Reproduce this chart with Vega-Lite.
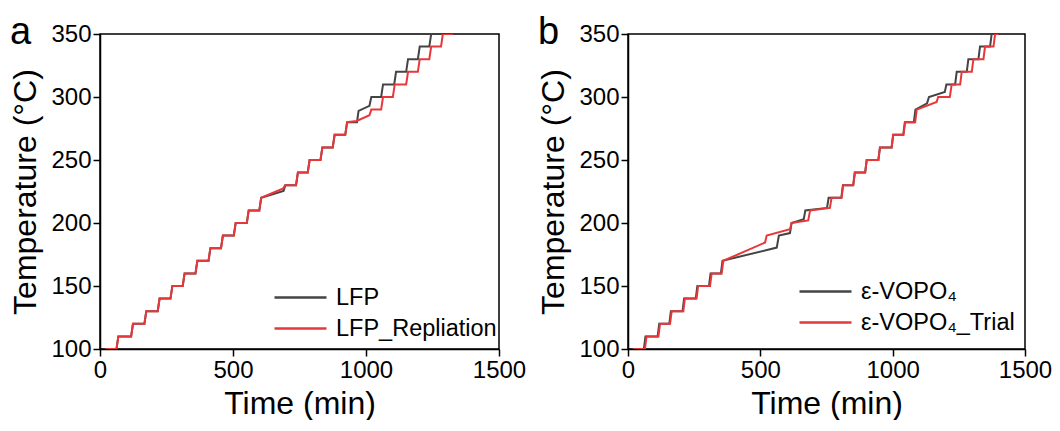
{
  "$schema": "https://vega.github.io/schema/vega-lite/v6.json",
  "background": "white",
  "padding": {"left": 9, "top": 13, "right": 5, "bottom": 0},
  "datasets": {
    "a": [
      {"time": 20, "temp": 100, "series": "LFP"}, {"time": 62, "temp": 100, "series": "LFP"}, {"time": 69, "temp": 110, "series": "LFP"},
      {"time": 117, "temp": 110, "series": "LFP"}, {"time": 124, "temp": 120, "series": "LFP"}, {"time": 167, "temp": 120, "series": "LFP"},
      {"time": 174, "temp": 130, "series": "LFP"}, {"time": 217, "temp": 130, "series": "LFP"}, {"time": 224, "temp": 140, "series": "LFP"},
      {"time": 265, "temp": 140, "series": "LFP"}, {"time": 272, "temp": 150, "series": "LFP"}, {"time": 311, "temp": 150, "series": "LFP"},
      {"time": 318, "temp": 160, "series": "LFP"}, {"time": 359, "temp": 160, "series": "LFP"}, {"time": 366, "temp": 170, "series": "LFP"},
      {"time": 408, "temp": 170, "series": "LFP"}, {"time": 415, "temp": 180, "series": "LFP"}, {"time": 455, "temp": 180, "series": "LFP"},
      {"time": 462, "temp": 190, "series": "LFP"}, {"time": 503, "temp": 190, "series": "LFP"}, {"time": 510, "temp": 200, "series": "LFP"},
      {"time": 552, "temp": 200, "series": "LFP"}, {"time": 559, "temp": 210, "series": "LFP"}, {"time": 599, "temp": 210, "series": "LFP"},
      {"time": 606, "temp": 220, "series": "LFP"}, {"time": 690, "temp": 225.5, "series": "LFP"}, {"time": 697, "temp": 230, "series": "LFP"},
      {"time": 737, "temp": 230, "series": "LFP"}, {"time": 744, "temp": 240, "series": "LFP"}, {"time": 781, "temp": 240, "series": "LFP"},
      {"time": 788, "temp": 250, "series": "LFP"}, {"time": 829, "temp": 250, "series": "LFP"}, {"time": 836, "temp": 260, "series": "LFP"},
      {"time": 875, "temp": 260, "series": "LFP"}, {"time": 882, "temp": 270, "series": "LFP"}, {"time": 922, "temp": 270, "series": "LFP"},
      {"time": 929, "temp": 280, "series": "LFP"}, {"time": 966, "temp": 280, "series": "LFP"}, {"time": 972, "temp": 289, "series": "LFP"},
      {"time": 1013, "temp": 293, "series": "LFP"}, {"time": 1020, "temp": 300, "series": "LFP"}, {"time": 1057, "temp": 300, "series": "LFP"},
      {"time": 1064, "temp": 310, "series": "LFP"}, {"time": 1106, "temp": 310, "series": "LFP"}, {"time": 1113, "temp": 320, "series": "LFP"},
      {"time": 1151, "temp": 320, "series": "LFP"}, {"time": 1158, "temp": 330, "series": "LFP"}, {"time": 1195, "temp": 330, "series": "LFP"},
      {"time": 1202, "temp": 340, "series": "LFP"}, {"time": 1238, "temp": 340, "series": "LFP"}, {"time": 1245, "temp": 350, "series": "LFP"},

      {"time": 20, "temp": 100, "series": "LFP_Repliation"}, {"time": 62, "temp": 100, "series": "LFP_Repliation"}, {"time": 69, "temp": 110, "series": "LFP_Repliation"},
      {"time": 117, "temp": 110, "series": "LFP_Repliation"}, {"time": 124, "temp": 120, "series": "LFP_Repliation"}, {"time": 167, "temp": 120, "series": "LFP_Repliation"},
      {"time": 174, "temp": 130, "series": "LFP_Repliation"}, {"time": 217, "temp": 130, "series": "LFP_Repliation"}, {"time": 224, "temp": 140, "series": "LFP_Repliation"},
      {"time": 265, "temp": 140, "series": "LFP_Repliation"}, {"time": 272, "temp": 150, "series": "LFP_Repliation"}, {"time": 311, "temp": 150, "series": "LFP_Repliation"},
      {"time": 318, "temp": 160, "series": "LFP_Repliation"}, {"time": 359, "temp": 160, "series": "LFP_Repliation"}, {"time": 366, "temp": 170, "series": "LFP_Repliation"},
      {"time": 408, "temp": 170, "series": "LFP_Repliation"}, {"time": 415, "temp": 180, "series": "LFP_Repliation"}, {"time": 455, "temp": 180, "series": "LFP_Repliation"},
      {"time": 462, "temp": 190, "series": "LFP_Repliation"}, {"time": 503, "temp": 190, "series": "LFP_Repliation"}, {"time": 510, "temp": 200, "series": "LFP_Repliation"},
      {"time": 552, "temp": 200, "series": "LFP_Repliation"}, {"time": 559, "temp": 210, "series": "LFP_Repliation"}, {"time": 599, "temp": 210, "series": "LFP_Repliation"},
      {"time": 606, "temp": 220, "series": "LFP_Repliation"}, {"time": 689, "temp": 227.5, "series": "LFP_Repliation"}, {"time": 696, "temp": 230, "series": "LFP_Repliation"},
      {"time": 737, "temp": 230, "series": "LFP_Repliation"}, {"time": 744, "temp": 240, "series": "LFP_Repliation"}, {"time": 781, "temp": 240, "series": "LFP_Repliation"},
      {"time": 788, "temp": 250, "series": "LFP_Repliation"}, {"time": 829, "temp": 250, "series": "LFP_Repliation"}, {"time": 836, "temp": 260, "series": "LFP_Repliation"},
      {"time": 875, "temp": 260, "series": "LFP_Repliation"}, {"time": 882, "temp": 270, "series": "LFP_Repliation"}, {"time": 922, "temp": 270, "series": "LFP_Repliation"},
      {"time": 929, "temp": 280, "series": "LFP_Repliation"}, {"time": 965, "temp": 281, "series": "LFP_Repliation"}, {"time": 1013, "temp": 285.5, "series": "LFP_Repliation"},
      {"time": 1020, "temp": 290, "series": "LFP_Repliation"}, {"time": 1057, "temp": 290, "series": "LFP_Repliation"}, {"time": 1064, "temp": 300, "series": "LFP_Repliation"},
      {"time": 1101, "temp": 300, "series": "LFP_Repliation"}, {"time": 1108, "temp": 310, "series": "LFP_Repliation"}, {"time": 1151, "temp": 310, "series": "LFP_Repliation"},
      {"time": 1158, "temp": 320, "series": "LFP_Repliation"}, {"time": 1195, "temp": 320, "series": "LFP_Repliation"}, {"time": 1202, "temp": 330, "series": "LFP_Repliation"},
      {"time": 1238, "temp": 330, "series": "LFP_Repliation"}, {"time": 1245, "temp": 340, "series": "LFP_Repliation"}, {"time": 1282, "temp": 340, "series": "LFP_Repliation"},
      {"time": 1289, "temp": 350, "series": "LFP_Repliation"}, {"time": 1327, "temp": 350, "series": "LFP_Repliation"}
    ],
    "b": [
      {"time": 18, "temp": 100, "series": "ε-VOPO₄"}, {"time": 60, "temp": 100, "series": "ε-VOPO₄"}, {"time": 66, "temp": 110, "series": "ε-VOPO₄"},
      {"time": 112, "temp": 110, "series": "ε-VOPO₄"}, {"time": 118, "temp": 120, "series": "ε-VOPO₄"}, {"time": 156, "temp": 120, "series": "ε-VOPO₄"},
      {"time": 162, "temp": 130, "series": "ε-VOPO₄"}, {"time": 206, "temp": 130, "series": "ε-VOPO₄"}, {"time": 212, "temp": 140, "series": "ε-VOPO₄"},
      {"time": 256, "temp": 140, "series": "ε-VOPO₄"}, {"time": 262, "temp": 150, "series": "ε-VOPO₄"}, {"time": 306, "temp": 150, "series": "ε-VOPO₄"},
      {"time": 312, "temp": 160, "series": "ε-VOPO₄"}, {"time": 351, "temp": 160, "series": "ε-VOPO₄"}, {"time": 357, "temp": 170, "series": "ε-VOPO₄"},
      {"time": 562, "temp": 180.5, "series": "ε-VOPO₄"}, {"time": 570, "temp": 190, "series": "ε-VOPO₄"}, {"time": 612, "temp": 192, "series": "ε-VOPO₄"},
      {"time": 618, "temp": 200, "series": "ε-VOPO₄"}, {"time": 664, "temp": 203, "series": "ε-VOPO₄"}, {"time": 670, "temp": 210, "series": "ε-VOPO₄"},
      {"time": 752, "temp": 212, "series": "ε-VOPO₄"}, {"time": 758, "temp": 220, "series": "ε-VOPO₄"}, {"time": 806, "temp": 220, "series": "ε-VOPO₄"},
      {"time": 812, "temp": 230, "series": "ε-VOPO₄"}, {"time": 851, "temp": 230, "series": "ε-VOPO₄"}, {"time": 857, "temp": 240, "series": "ε-VOPO₄"},
      {"time": 896, "temp": 240, "series": "ε-VOPO₄"}, {"time": 902, "temp": 250, "series": "ε-VOPO₄"}, {"time": 946, "temp": 250, "series": "ε-VOPO₄"},
      {"time": 952, "temp": 260, "series": "ε-VOPO₄"}, {"time": 996, "temp": 260, "series": "ε-VOPO₄"}, {"time": 1002, "temp": 270, "series": "ε-VOPO₄"},
      {"time": 1040, "temp": 270, "series": "ε-VOPO₄"}, {"time": 1046, "temp": 280, "series": "ε-VOPO₄"}, {"time": 1080, "temp": 280, "series": "ε-VOPO₄"},
      {"time": 1086, "temp": 290, "series": "ε-VOPO₄"}, {"time": 1130, "temp": 295, "series": "ε-VOPO₄"}, {"time": 1137, "temp": 300, "series": "ε-VOPO₄"},
      {"time": 1197, "temp": 304, "series": "ε-VOPO₄"}, {"time": 1203, "temp": 310, "series": "ε-VOPO₄"}, {"time": 1236, "temp": 310, "series": "ε-VOPO₄"},
      {"time": 1242, "temp": 320, "series": "ε-VOPO₄"}, {"time": 1280, "temp": 320, "series": "ε-VOPO₄"}, {"time": 1286, "temp": 330, "series": "ε-VOPO₄"},
      {"time": 1324, "temp": 330, "series": "ε-VOPO₄"}, {"time": 1330, "temp": 340, "series": "ε-VOPO₄"}, {"time": 1368, "temp": 340, "series": "ε-VOPO₄"},
      {"time": 1374, "temp": 350, "series": "ε-VOPO₄"}, {"time": 1385, "temp": 350, "series": "ε-VOPO₄"},

      {"time": 20, "temp": 100, "series": "ε-VOPO₄_Trial"}, {"time": 64, "temp": 100, "series": "ε-VOPO₄_Trial"}, {"time": 70, "temp": 110, "series": "ε-VOPO₄_Trial"},
      {"time": 115, "temp": 110, "series": "ε-VOPO₄_Trial"}, {"time": 121, "temp": 120, "series": "ε-VOPO₄_Trial"}, {"time": 159, "temp": 120, "series": "ε-VOPO₄_Trial"},
      {"time": 165, "temp": 130, "series": "ε-VOPO₄_Trial"}, {"time": 209, "temp": 130, "series": "ε-VOPO₄_Trial"}, {"time": 215, "temp": 140, "series": "ε-VOPO₄_Trial"},
      {"time": 259, "temp": 140, "series": "ε-VOPO₄_Trial"}, {"time": 265, "temp": 150, "series": "ε-VOPO₄_Trial"}, {"time": 310, "temp": 150, "series": "ε-VOPO₄_Trial"},
      {"time": 316, "temp": 160, "series": "ε-VOPO₄_Trial"}, {"time": 354, "temp": 160, "series": "ε-VOPO₄_Trial"}, {"time": 360, "temp": 170, "series": "ε-VOPO₄_Trial"},
      {"time": 518, "temp": 184.5, "series": "ε-VOPO₄_Trial"}, {"time": 524, "temp": 190, "series": "ε-VOPO₄_Trial"}, {"time": 612, "temp": 195, "series": "ε-VOPO₄_Trial"},
      {"time": 618, "temp": 200, "series": "ε-VOPO₄_Trial"}, {"time": 681, "temp": 202, "series": "ε-VOPO₄_Trial"}, {"time": 688, "temp": 210, "series": "ε-VOPO₄_Trial"},
      {"time": 763, "temp": 212, "series": "ε-VOPO₄_Trial"}, {"time": 769, "temp": 220, "series": "ε-VOPO₄_Trial"}, {"time": 807, "temp": 220, "series": "ε-VOPO₄_Trial"},
      {"time": 813, "temp": 230, "series": "ε-VOPO₄_Trial"}, {"time": 851, "temp": 230, "series": "ε-VOPO₄_Trial"}, {"time": 857, "temp": 240, "series": "ε-VOPO₄_Trial"},
      {"time": 896, "temp": 240, "series": "ε-VOPO₄_Trial"}, {"time": 902, "temp": 250, "series": "ε-VOPO₄_Trial"}, {"time": 946, "temp": 250, "series": "ε-VOPO₄_Trial"},
      {"time": 952, "temp": 260, "series": "ε-VOPO₄_Trial"}, {"time": 996, "temp": 260, "series": "ε-VOPO₄_Trial"}, {"time": 1002, "temp": 270, "series": "ε-VOPO₄_Trial"},
      {"time": 1041, "temp": 270, "series": "ε-VOPO₄_Trial"}, {"time": 1047, "temp": 280, "series": "ε-VOPO₄_Trial"}, {"time": 1085, "temp": 280, "series": "ε-VOPO₄_Trial"},
      {"time": 1091, "temp": 290, "series": "ε-VOPO₄_Trial"}, {"time": 1166, "temp": 296, "series": "ε-VOPO₄_Trial"}, {"time": 1172, "temp": 300, "series": "ε-VOPO₄_Trial"},
      {"time": 1216, "temp": 300, "series": "ε-VOPO₄_Trial"}, {"time": 1223, "temp": 310, "series": "ε-VOPO₄_Trial"}, {"time": 1255, "temp": 310, "series": "ε-VOPO₄_Trial"},
      {"time": 1261, "temp": 320, "series": "ε-VOPO₄_Trial"}, {"time": 1299, "temp": 320, "series": "ε-VOPO₄_Trial"}, {"time": 1305, "temp": 330, "series": "ε-VOPO₄_Trial"},
      {"time": 1343, "temp": 330, "series": "ε-VOPO₄_Trial"}, {"time": 1349, "temp": 340, "series": "ε-VOPO₄_Trial"}, {"time": 1381, "temp": 340, "series": "ε-VOPO₄_Trial"},
      {"time": 1387, "temp": 350, "series": "ε-VOPO₄_Trial"}, {"time": 1400, "temp": 350, "series": "ε-VOPO₄_Trial"}
    ]
  },
  "config": {
    "font": "Liberation Sans",
    "view": {"stroke": "black", "strokeWidth": 1.5},
    "axis": {
      "grid": false, "domainColor": "black", "domainWidth": 1.5, "tickColor": "black", "tickWidth": 1.5, "tickSize": 7,
      "labelFont": "Liberation Sans", "labelFontSize": 24, "labelColor": "black", "labelFlush": false, "labelOverlap": false, "labelPadding": 2,
      "titleFont": "Liberation Sans", "titleFontSize": 32, "titleFontWeight": "normal", "titleColor": "black", "format": "d"
    },
    "legend": {
      "orient": "bottom-right", "labelFont": "Liberation Sans", "labelFontSize": 23.5, "labelColor": "black", "labelLimit": 400,
      "symbolType": "M-2,0H2", "symbolSize": 676, "symbolStrokeWidth": 2.5, "symbolFillColor": "transparent", "rowPadding": 5, "labelOffset": 21, "padding": 0,
      "titleOrient": "bottom", "titleFontSize": 6, "titlePadding": 0
    },
    "title": {"font": "Liberation Sans", "fontSize": 38, "fontWeight": "normal", "color": "black", "anchor": "start", "offset": -30}
  },
  "resolve": {"scale": {"color": "independent"}, "legend": {"color": "independent"}},
  "spacing": 10,
  "hconcat": [
    {
      "title": "a",
      "width": 399, "height": 315,
      "data": {"name": "a"},
      "layer": [
        {"transform": [{"filter": "datum.series === 'LFP'"}], "mark": {"type": "line", "strokeWidth": 2, "clip": true}},
        {"transform": [{"filter": "datum.series === 'LFP_Repliation'"}], "mark": {"type": "line", "strokeWidth": 2, "clip": true}}
      ],
      "encoding": {
        "x": {"field": "time", "type": "quantitative", "title": "Time (min)", "scale": {"domain": [0, 1500], "nice": false}, "axis": {"values": [0, 500, 1000, 1500], "titlePadding": 6}},
        "y": {"field": "temp", "type": "quantitative", "title": "Temperature (°C)", "scale": {"domain": [100, 350], "nice": false, "zero": false}, "axis": {"values": [100, 150, 200, 250, 300, 350], "titlePadding": 8}},
        "color": {"field": "series", "type": "nominal", "scale": {"domain": ["LFP", "LFP_Repliation"], "range": ["#444444", "#e8373b"]}, "legend": {"title": " ", "offset": 2, "titleFontSize": 7}}
      }
    },
    {
      "title": "b",
      "width": 397, "height": 315,
      "data": {"name": "b"},
      "layer": [
        {"transform": [{"filter": "datum.series === 'ε-VOPO₄'"}], "mark": {"type": "line", "strokeWidth": 2, "clip": true}},
        {"transform": [{"filter": "datum.series === 'ε-VOPO₄_Trial'"}], "mark": {"type": "line", "strokeWidth": 2, "clip": true}}
      ],
      "encoding": {
        "x": {"field": "time", "type": "quantitative", "title": "Time (min)", "scale": {"domain": [0, 1500], "nice": false}, "axis": {"values": [0, 500, 1000, 1500], "titlePadding": 6}},
        "y": {"field": "temp", "type": "quantitative", "title": "Temperature (°C)", "scale": {"domain": [100, 350], "nice": false, "zero": false}, "axis": {"values": [100, 150, 200, 250, 300, 350], "titlePadding": 8}},
        "color": {"field": "series", "type": "nominal", "scale": {"domain": ["ε-VOPO₄", "ε-VOPO₄_Trial"], "range": ["#444444", "#e8373b"]}, "legend": {"title": " ", "offset": 10, "titleFontSize": 5}}
      }
    }
  ]
}
